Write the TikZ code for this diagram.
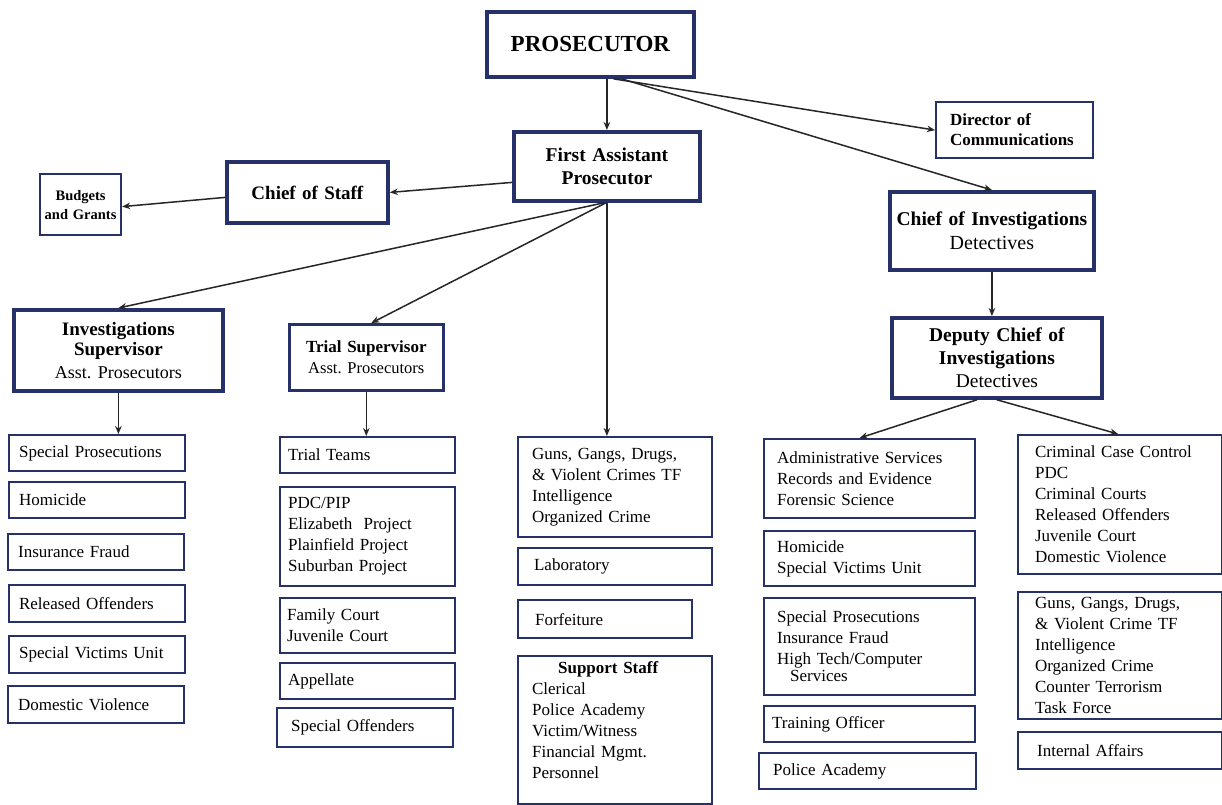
\documentclass[tikz,border=0pt]{standalone}
\usepackage{fontspec}
\setmainfont{Liberation Serif}
\usetikzlibrary{arrows.meta}
\definecolor{navy}{RGB}{38,48,105}
\newcommand\bx[8]{%
  \pgfmathsetmacro\bxw{#4-#2-2*#6}%
  \pgfmathsetmacro\bxh{#5-#3}%
  \node[#7, anchor=north west, inner xsep=#6pt, inner ysep=0pt,
        text width=\bxw pt, minimum height=\bxh pt] (#1) at (#2,#3) {#8};}
\begin{document}
\begin{tikzpicture}[x=1pt,y=-1pt,
  thinbox/.style={draw=navy, line width=2.2pt, font=\fontsize{17}{21}\selectfont, align=left},
  thickbox/.style={draw=navy, line width=3.8pt, align=center},
  conn/.style={draw=black!85, line width=1.5pt, -{Stealth[length=8pt,width=6.5pt]}}]
\useasboundingbox[fill=white] (0,0) rectangle (1222,804);

% top level
\bx{pros}{485}{10}{692}{75}{6}{thickbox, font=\bfseries\fontsize{23}{27}\selectfont}{PROSECUTOR}
\bx{fap}{512}{130}{698}{199}{6}{thickbox, font=\bfseries\fontsize{19.5}{23}\selectfont}{First Assistant\\Prosecutor}
\bx{cos}{225}{160}{386}{221}{6}{thickbox, font=\bfseries\fontsize{19}{23}\selectfont}{Chief of Staff}
\bx{bud}{39}{173}{120}{234}{3}{thinbox, align=center, font=\bfseries\fontsize{14.5}{19}\selectfont}{Budgets\\and Grants}
\bx{dir}{935}{101}{1092}{157}{14}{thinbox, font=\bfseries\fontsize{17}{20}\selectfont}{Director of\\Communications}
\bx{coi}{888}{190}{1092}{268}{5}{thickbox, font=\fontsize{19.5}{24}\selectfont}{\textbf{Chief of Investigations}\\{\fontsize{20}{24}\selectfont Detectives}}
\bx{dci}{890}{316}{1100}{396}{6}{thickbox, font=\fontsize{19.5}{23}\selectfont}{\textbf{Deputy Chief of}\\\textbf{Investigations}\\Detectives}
\bx{isup}{12}{308}{221}{389}{6}{thickbox, font=\fontsize{19}{20}\selectfont}{\textbf{Investigations}\\\textbf{Supervisor}\\[3pt]{\fontsize{18}{21}\selectfont Asst.\ Prosecutors}}
\bx{tsup}{288}{323}{442}{389}{6}{thinbox, line width=2.6pt, align=center, font=\fontsize{17}{21}\selectfont}{\textbf{Trial Supervisor}\\{\fontsize{16.5}{21}\selectfont Asst.\ Prosecutors}}

% column 1
\bx{sp1}{8}{434}{184}{470}{10}{thinbox}{Special Prosecutions}
\bx{hom1}{8}{481}{184}{517}{10}{thinbox}{Homicide}
\bx{ins1}{7}{533}{183}{569}{10}{thinbox}{Insurance Fraud}
\bx{rel1}{8}{584}{184}{621}{10}{thinbox}{Released Offenders}
\bx{svu1}{8}{635}{184}{672}{10}{thinbox}{Special Victims Unit}
\bx{dv1}{7}{685}{183}{722}{10}{thinbox}{Domestic Violence}

% column 2
\bx{tt}{279}{436}{454}{472}{8}{thinbox}{Trial Teams}
\bx{pdc}{279}{486}{454}{585}{8}{thinbox}{PDC/PIP\\Elizabeth\ \ Project\\Plainfield Project\\Suburban Project}
\bx{fam}{279}{597}{454}{652}{7}{thinbox}{Family Court\\Juvenile Court}
\bx{app}{279}{662}{454}{698}{8}{thinbox}{Appellate}
\bx{so}{276}{707}{452}{746}{14}{thinbox}{Special Offenders}

% column 3
\bx{guns}{517}{436}{711}{536}{14}{thinbox}{Guns, Gangs, Drugs,\\\& Violent Crimes TF\\Intelligence\\Organized Crime}
\bx{lab}{517}{547}{711}{584}{16}{thinbox}{Laboratory}
\bx{forf}{517}{599}{691}{637}{17}{thinbox}{Forfeiture}
\bx{sup}{517}{655}{711}{803}{14}{thinbox}{\hspace*{26pt}\textbf{Support Staff}\\Clerical\\Police Academy\\Victim/Witness\\Financial Mgmt.\\Personnel\\\mbox{}}

% column 4
\bx{adm}{763}{438}{974}{517}{13}{thinbox}{Administrative Services\\Records and Evidence\\Forensic Science}
\bx{hsv}{763}{530}{974}{585}{13}{thinbox}{Homicide\\Special Victims Unit}
\bx{spi}{763}{597}{974}{694}{13}{thinbox}{Special Prosecutions\\Insurance Fraud\\High Tech/Computer\\[-4pt]\hspace*{13pt}Services}
\bx{tro}{763}{705}{974}{741}{8}{thinbox}{Training Officer}
\bx{pa}{758}{752}{975}{788}{14}{thinbox}{Police Academy}

% column 5
\bx{ccc}{1017}{434}{1221}{573}{17}{thinbox}{Criminal Case Control\\PDC\\Criminal Courts\\Released Offenders\\Juvenile Court\\Domestic Violence}
\bx{guns2}{1017}{591}{1221}{718}{17}{thinbox}{Guns, Gangs, Drugs,\\\& Violent Crime TF\\Intelligence\\Organized Crime\\Counter Terrorism\\Task Force}
\bx{ia}{1017}{731}{1221}{768}{19}{thinbox}{Internal Affairs}

% connectors
\draw[conn] (pros.south -| fap.north) -- (fap.north);
\draw[conn] ([xshift=23pt]pros.south) -- (dir.west);
\draw[conn] ([xshift=31pt]pros.south) -- (coi.north);
\draw[conn] ([yshift=-16pt]fap.west) -- (cos.east);
\draw[conn] ([yshift=-5pt]cos.west) -- ([yshift=-2pt]bud.east);
\draw[conn] ([xshift=-3pt]fap.south) -- (isup.north);
\draw[conn] ([xshift=-1pt]fap.south) -- ([xshift=5pt]tsup.north);
\draw[conn] (fap.south) -- (fap.south |- guns.north);
\draw[conn] (isup.south) -- (isup.south |- sp1.north);
\draw[conn] (tsup.south) -- (tsup.south |- tt.north);
\draw[conn] (coi.south) -- (coi.south |- dci.north);
\draw[conn] ([xshift=-20pt]dci.south) -- ([xshift=-10pt]adm.north);
\draw[conn] (dci.south) -- ([xshift=-2pt]ccc.north);
\end{tikzpicture}
\end{document}
